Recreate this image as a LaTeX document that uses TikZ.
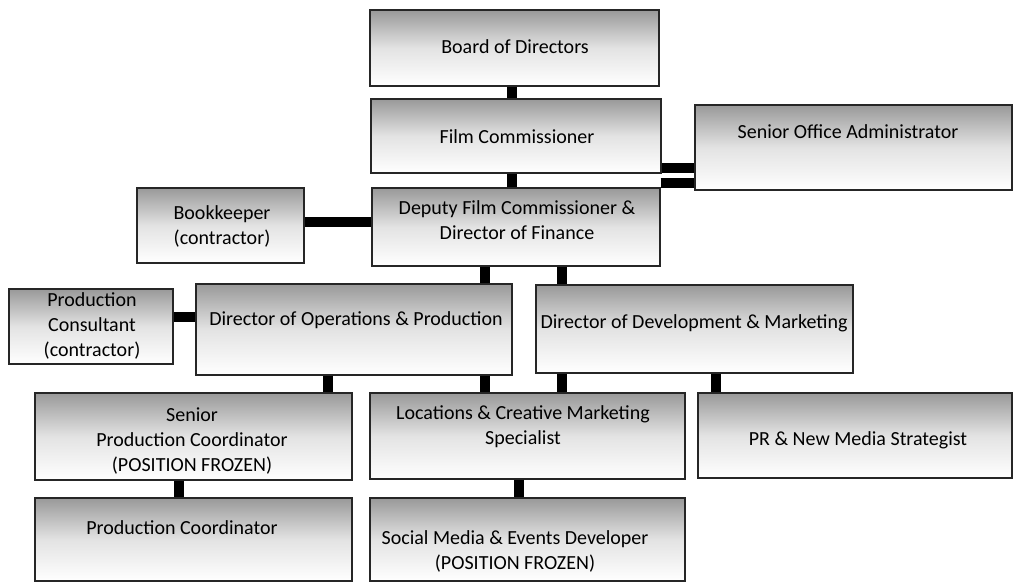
\documentclass[tikz,border=0pt]{standalone}
\usepackage{fontspec}
\setmainfont{Carlito}
\begin{document}
\begin{tikzpicture}[x=1pt,y=-1pt,
  orgbox/.style={draw=black!85, line width=1.2pt, top color=black!40, bottom color=white, middle color=black!11, inner sep=0pt},
  txt/.style={align=center, font=\fontsize{20}{25}\selectfont, text=black, inner sep=0pt},
  conn/.style={line width=10pt, black, line cap=butt}]
\useasboundingbox (0,0) rectangle (1018,583);
% boxes
\newcommand{\obox}[5]{\node[orgbox, minimum width=#4-#2, minimum height=#5-#3] (#1) at ({(#2+#4)/2},{(#3+#5)/2}) {};}
\obox{board}{370}{10}{659}{86}
\obox{fc}{371}{99}{661}{173}
\obox{soa}{695}{105}{1012}{190}
\obox{deputy}{372}{188}{660}{266}
\obox{book}{137}{188}{304}{263}
\obox{pcons}{9}{289}{173}{364}
\obox{ops}{196}{284}{512}{375}
\obox{dev}{536}{285}{853}{373}
\obox{spc}{35}{393}{352}{480}
\obox{loc}{370}{393}{685}{479}
\obox{pr}{698}{393}{1012}{478}
\obox{pc}{35}{498}{352}{581}
\obox{social}{370}{498}{685}{581}
% texts
\node[txt] (boardT) at (515,47) {Board of Directors};
\node[txt] (fcT) at (517,137) {Film Commissioner};
\node[txt] (soaT) at (848,132) {Senior Office Administrator};
\node[txt] (deputyT) at (517,220) {Deputy Film Commissioner \&\\Director of Finance};
\node[txt] (bookT) at (222,226) {Bookkeeper\\(contractor)};
\node[txt] (pconsT) at (92,326) {Production\\Consultant\\(contractor)};
\node[txt] (opsT) at (356,320) {Director of Operations \& Production};
\node[txt] (devT) at (694,323) {Director of Development \& Marketing};
\node[txt] (spcT) at (192,441) {Senior\\Production Coordinator\\(POSITION FROZEN)};
\node[txt] (locT) at (523,427) {Locations \& Creative Marketing\\Specialist};
\node[txt] (prT) at (858,440) {PR \& New Media Strategist};
\node[txt] (pcT) at (182,528) {Production Coordinator};
\node[txt] (socialT) at (515,551) {Social Media \& Events Developer\\(POSITION FROZEN)};
% connectors
\draw[conn] (board.south -| 512,0) -- (fc.north -| 512,0);
\draw[conn] (fc.south -| 512,0) -- (deputy.north -| 512,0);
\draw[conn] (fc.east |- 0,168) -- (soa.west |- 0,168);
\draw[conn] (deputy.east |- 0,183) -- (soa.west |- 0,183);
\draw[conn] (book.east |- 0,222) -- (deputy.west |- 0,222);
\draw[conn] (deputy.south -| 485,0) -- (ops.north -| 485,0);
\draw[conn] (deputy.south -| 562,0) -- (dev.north -| 562,0);
\draw[conn] (pcons.east |- 0,317) -- (ops.west |- 0,317);
\draw[conn] (ops.south -| 328,0) -- (spc.north -| 328,0);
\draw[conn] (ops.south -| 485,0) -- (loc.north -| 485,0);
\draw[conn] (dev.south -| 562,0) -- (loc.north -| 562,0);
\draw[conn] (dev.south -| 716,0) -- (pr.north -| 716,0);
\draw[conn] (spc.south -| 179,0) -- (pc.north -| 179,0);
\draw[conn] (loc.south -| 519,0) -- (social.north -| 519,0);
\end{tikzpicture}
\end{document}
